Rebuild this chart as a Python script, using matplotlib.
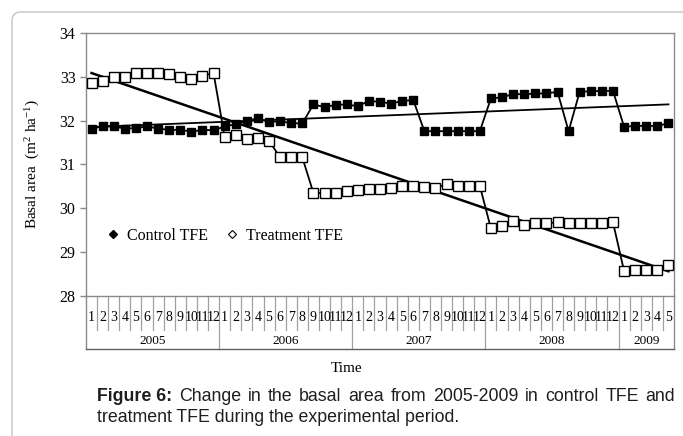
import numpy as np
import matplotlib
matplotlib.use('Agg')
import matplotlib.pyplot as plt
from matplotlib.lines import Line2D
from matplotlib.patches import FancyBboxPatch
import matplotlib.transforms as mtransforms

plt.rcParams['font.family'] = ['Liberation Serif', 'DejaVu Serif']
plt.rcParams['mathtext.fontset'] = 'custom'
plt.rcParams['mathtext.rm'] = 'Liberation Serif'
plt.rcParams['mathtext.it'] = 'Liberation Serif:italic'

# ---------------- data ----------------
years = ['2005', '2006', '2007', '2008', '2009']
months_per_year = [12, 12, 12, 12, 5]
month_labels = [str(m) for n in months_per_year for m in range(1, n + 1)]

control = [31.82, 31.87, 31.87, 31.82, 31.83, 31.87, 31.82, 31.79, 31.79, 31.75, 31.79, 31.78,
           31.87, 31.92, 32.00, 32.05, 31.97, 31.99, 31.94, 31.94, 32.37, 32.31, 32.36, 32.37,
           32.33, 32.45, 32.43, 32.39, 32.45, 32.47, 31.76, 31.76, 31.76, 31.76, 31.76, 31.76,
           32.51, 32.53, 32.61, 32.60, 32.62, 32.62, 32.66, 31.76, 32.66, 32.67, 32.68, 32.68,
           31.86, 31.88, 31.88, 31.88, 31.94]
treatment = [32.87, 32.91, 32.99, 33.00, 33.08, 33.08, 33.08, 33.06, 32.99, 32.94, 33.03, 33.08,
             31.63, 31.67, 31.58, 31.61, 31.54, 31.16, 31.16, 31.16, 30.35, 30.35, 30.34, 30.39,
             30.42, 30.45, 30.45, 30.47, 30.51, 30.51, 30.49, 30.47, 30.55, 30.51, 30.51, 30.51,
             29.54, 29.59, 29.72, 29.62, 29.66, 29.66, 29.68, 29.66, 29.66, 29.66, 29.66, 29.68,
             28.57, 28.60, 28.60, 28.60, 28.70]
series_names = ['Control TFE', 'Treatment TFE']
caption_bold = 'Figure 6:'
caption_line1 = 'Change in the basal area from 2005-2009 in control TFE and'
caption_line2 = 'treatment TFE during the experimental period.'

# ---------------- figure ----------------
W, H = 683, 436
fig = plt.figure(figsize=(W / 100, H / 100), dpi=100)
ax_top, ax_bot, ax_l, ax_r = 33, 296, 86, 674
ax = fig.add_axes([ax_l / W, 1 - ax_bot / H, (ax_r - ax_l) / W, (ax_bot - ax_top) / H])
axh = ax_bot - ax_top

n = len(month_labels)
x = np.arange(n)
ax.plot(x, control, '-', color='black', lw=1.3, marker='s', ms=6, mfc='black',
        mec='black', zorder=4)
ax.plot(x, treatment, '-', color='black', lw=1.3, marker='s', ms=6.5, mfc='white',
        mec='black', mew=1.0, zorder=4)
for s, lw in ((control, 1.3), (treatment, 1.8)):
    p = np.polyfit(x, s, 1)
    ax.plot(x, np.polyval(p, x), color='black', lw=lw, zorder=3)

ax.set_xlim(-0.5, n - 0.5)
ax.set_ylim(28, 34)
ax.set_yticks(range(28, 35))
ax.set_xticks([])
gray = '#8a8a8a'
for sp in ax.spines.values():
    sp.set_color(gray)
    sp.set_linewidth(1.0)
ax.tick_params(axis='y', direction='out', length=4.5, width=1, color=gray,
               labelsize=11.5, pad=3)

ax.set_ylabel(r'Basal area  (m$^{2}$ ha$^{-1}$)', fontsize=11, va='center')
ax.yaxis.set_label_coords((33 - ax_l) / (ax_r - ax_l), 0.5)

# legend
handles = [Line2D([], [], ls='none', marker='D', ms=4, mfc='black', mec='black'),
           Line2D([], [], ls='none', marker='D', ms=4, mfc='white', mec='black', mew=0.8)]
ax.legend(handles, series_names, loc='center left', ncol=2, frameon=False,
          bbox_to_anchor=((107 - ax_l) / (ax_r - ax_l), 1 - (236 - ax_top) / axh),
          fontsize=11.5, handlelength=0.8, handletextpad=0.45, columnspacing=1.1,
          borderpad=0, borderaxespad=0)

# category table below the axis
trans = mtransforms.blended_transform_factory(ax.transData, ax.transAxes)
y_month = -(330 - ax_bot) / axh
y_year = -(349 - ax_bot) / axh
bounds = np.cumsum(months_per_year)
for i in range(1, n):
    yb = y_year if i in bounds else y_month
    ax.add_line(Line2D([i - 0.5, i - 0.5], [0, yb], transform=trans, clip_on=False,
                       color='#a0a0a0', lw=0.9))
for xe in (-0.5, n - 0.5):
    ax.add_line(Line2D([xe, xe], [0, y_year], transform=trans, clip_on=False,
                       color=gray, lw=1.0))
ax.add_line(Line2D([-0.5, n - 0.5], [y_year, y_year], transform=trans, clip_on=False,
                   color='#606060', lw=1.0))
for i, lab in enumerate(month_labels):
    ax.text(i, -(317 - ax_bot) / axh, lab, transform=trans, ha='center', va='center',
            fontsize=10, clip_on=False)
start = 0
for yr, m in zip(years, months_per_year):
    ax.text(start + (m - 1) / 2, -(341 - ax_bot) / axh, yr, transform=trans,
            ha='center', va='center', fontsize=9.5, clip_on=False)
    start += m

fig.text(347 / W, 1 - 368 / H, 'Time', ha='center', va='center', fontsize=11)

# outer frame
frame = FancyBboxPatch((12, -30), 720, H - 12 + 30,
                       boxstyle='round,pad=0,rounding_size=9',
                       transform=mtransforms.IdentityTransform(), fill=False,
                       ec='#c4c4c4', lw=1.0)
fig.add_artist(frame)

# caption (justified first line)
renderer = fig.canvas.get_renderer()
cap_color = '#1e1e1e'
probe = fig.text(0, 0, caption_line2, fontsize=10, family='Liberation Sans')
w2 = probe.get_window_extent(renderer).width
probe.remove()
fs = 10 * (461 - 97) / w2
tokens = [(caption_bold, 'bold')] + [(wd, 'normal') for wd in caption_line1.split()]
texts = [fig.text(0, 0, t, fontsize=fs, family='Liberation Sans', weight=wt,
                  color=cap_color, va='center', ha='left') for t, wt in tokens]
widths = [t.get_window_extent(renderer).width for t in texts]
gap = (675 - 97 - sum(widths)) / (len(texts) - 1)
xp = 97
for t, w in zip(texts, widths):
    t.set_position((xp / W, 1 - 396 / H))
    xp += w + gap
fig.text(97 / W, 1 - 417 / H, caption_line2, fontsize=fs, family='Liberation Sans',
         color=cap_color, va='center', ha='left')

fig.savefig('out.png', dpi=100)
